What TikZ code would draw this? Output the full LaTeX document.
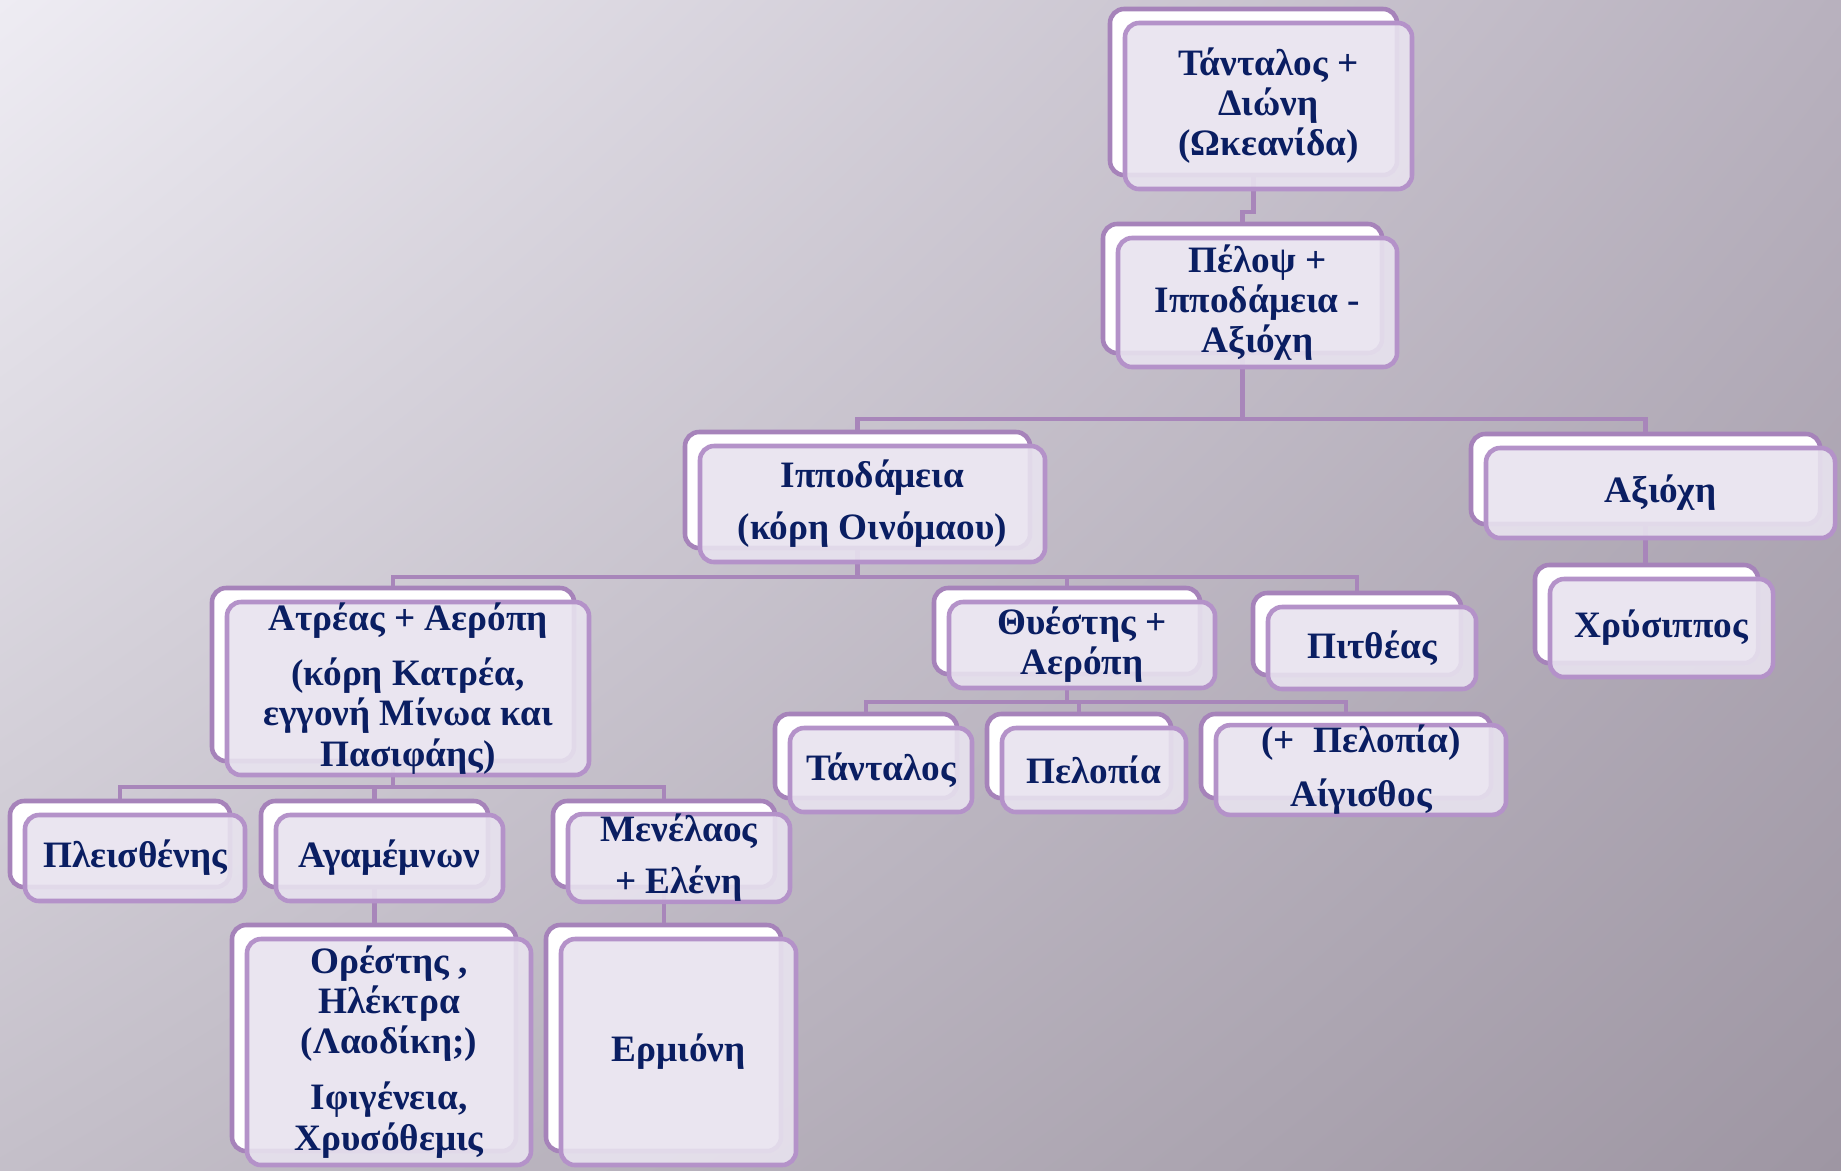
\documentclass[tikz,border=0pt]{standalone}
\usepackage{fontspec}
\setmainfont{Liberation Serif}
\usetikzlibrary{shadings}

\definecolor{bgTL}{RGB}{238,236,243}
\definecolor{bgTR}{RGB}{184,177,190}
\definecolor{bgBL}{RGB}{196,191,201}
\definecolor{bgBR}{RGB}{158,150,163}
\definecolor{backline}{RGB}{166,131,186}
\definecolor{frontline}{RGB}{180,146,201}
\definecolor{frontfill}{RGB}{232,227,239}
\definecolor{connline}{RGB}{168,134,186}
\definecolor{navy}{RGB}{10,30,98}

\begin{document}
\begin{tikzpicture}[x=0.1mm, y=-0.1mm,
  backbox/.style={draw=backline, fill=white, line width=1.3pt,
    rounded corners=1.4mm, inner sep=0pt},
  frontbox/.style={draw=frontline, fill=frontfill, fill opacity=0.9,
    text opacity=1, line width=1.3pt, rounded corners=1.4mm, inner sep=0pt,
    align=center, text=navy, font=\bfseries\fontsize{10.6}{11.4}\selectfont},
  conn/.style={draw=connline, line width=1.3pt},
  sz/.style 2 args={minimum width=#1mm, minimum height=#2mm}
]
  % background
  \shade[upper left=bgTL, upper right=bgTR, lower left=bgBL, lower right=bgBR]
    (0,0) rectangle (1841,1170);

  % back boxes
  \node[backbox, sz={28.7}{16.6}] (tantB) at (1253.5,92) {};
  \node[backbox, sz={27.9}{12.9}] (pelB) at (1242.5,288.5) {};
  \node[backbox, sz={34.5}{11.6}] (ippB) at (857.5,490) {};
  \node[backbox, sz={34.9}{9.0}] (axiB) at (1645.5,479) {};
  \node[backbox, sz={22.3}{9.8}] (chrB) at (1646.5,614) {};
  \node[backbox, sz={36.2}{17.3}] (atrB) at (393,674.5) {};
  \node[backbox, sz={26.6}{8.6}] (thyB) at (1067,631) {};
  \node[backbox, sz={20.8}{8.2}] (pitB) at (1357,634) {};
  \node[backbox, sz={18.2}{8.4}] (tanB) at (866,756) {};
  \node[backbox, sz={18.4}{8.4}] (peloB) at (1079,756) {};
  \node[backbox, sz={29.0}{8.4}] (aigB) at (1346,756) {};
  \node[backbox, sz={22.0}{8.6}] (pleB) at (120,844) {};
  \node[backbox, sz={22.7}{8.6}] (agaB) at (374.5,844) {};
  \node[backbox, sz={22.2}{8.6}] (menB) at (664,844) {};
  \node[backbox, sz={28.4}{22.6}] (oreB) at (374,1038) {};
  \node[backbox, sz={23.5}{22.6}] (ermB) at (663.5,1038) {};

  % bus levels
  \coordinate (jog) at (0,212);
  \coordinate (bus1) at (0,419);
  \coordinate (bus2) at (0,577);
  \coordinate (bus3) at (0,702);
  \coordinate (bus4) at (0,787);

  \draw[conn] (tantB.south) -- (tantB.south |- jog) -| (pelB.north);
  \draw[conn] (pelB.south) -- (pelB.south |- bus1) -| (ippB.north);
  \draw[conn] (pelB.south |- bus1) -| (axiB.north);
  \draw[conn] (axiB.south) -- (axiB.south |- chrB.north);
  \draw[conn] (ippB.south) -- (ippB.south |- bus2) -| (atrB.north);
  \draw[conn] (ippB.south |- bus2) -| (thyB.north);
  \draw[conn] (ippB.south |- bus2) -| (pitB.north);
  \draw[conn] (thyB.south) -- (thyB.south |- bus3) -| (tanB.north);
  \draw[conn] (thyB.south |- bus3) -| (peloB.north);
  \draw[conn] (thyB.south |- bus3) -| (aigB.north);
  \draw[conn] (atrB.south) -- (atrB.south |- bus4) -| (pleB.north);
  \draw[conn] (atrB.south |- bus4) -| (agaB.north);
  \draw[conn] (atrB.south |- bus4) -| (menB.north);
  \draw[conn] (agaB.south) -- (agaB.south |- oreB.north);
  \draw[conn] (menB.south) -- (menB.south |- ermB.north);

  % front boxes
  \node[frontbox, sz={28.7}{16.6}] (tant) at ([shift={(15,14)}]tantB)
    {Τάνταλος +\\Διώνη\\(Ωκεανίδα)};
  \node[frontbox, sz={27.9}{12.9}] (pel) at ([shift={(15,14)}]pelB)
    {Πέλοψ +\\Ιπποδάμεια -\\Αξιόχη};
  \node[frontbox, sz={34.5}{11.6}] (ipp) at ([shift={(15,14)}]ippB)
    {Ιπποδάμεια\\[1.2mm](κόρη Οινόμαου)};
  \node[frontbox, sz={34.9}{9.0}] (axi) at ([shift={(15,14)}]axiB) {Αξιόχη};
  \node[frontbox, sz={22.3}{9.8}] (chr) at ([shift={(15,14)}]chrB) {Χρύσιππος};
  \node[frontbox, sz={36.2}{17.3}] (atr) at ([shift={(15,14)}]atrB)
    {Ατρέας + Αερόπη\\[1.5mm](κόρη Κατρέα,\\εγγονή Μίνωα και\\Πασιφάης)};
  \node[frontbox, sz={26.6}{8.6}] (thy) at ([shift={(15,14)}]thyB)
    {Θυέστης +\\Αερόπη};
  \node[frontbox, sz={20.8}{8.2}] (pit) at ([shift={(15,14)}]pitB) {Πιτθέας};
  \node[frontbox, sz={18.2}{8.4}] (tan) at ([shift={(15,14)}]tanB) {Τάνταλος};
  \node[frontbox, sz={18.4}{8.4}] (pelo) at ([shift={(15,14)}]peloB) {Πελοπία};
  \node[frontbox, sz={29.0}{8.4}] (aig) at ([shift={(15,14)}]aigB)
    {(+\ \ Πελοπία)\\[1.4mm]Αίγισθος};
  \node[frontbox, sz={22.0}{8.6}] (ple) at ([shift={(15,14)}]pleB) {Πλεισθένης};
  \node[frontbox, sz={22.7}{8.6}] (aga) at ([shift={(15,14)}]agaB) {Αγαμέμνων};
  \node[frontbox, sz={22.2}{8.6}] (men) at ([shift={(15,14)}]menB)
    {Μενέλαος\\[1.2mm]+ Ελένη};
  \node[frontbox, sz={28.4}{22.6}] (ore) at ([shift={(15,14)}]oreB)
    {Ορέστης ,\\Ηλέκτρα\\(Λαοδίκη;)\\[1.6mm]Ιφιγένεια,\\Χρυσόθεμις};
  \node[frontbox, sz={23.5}{22.6}] (erm) at ([shift={(15,14)}]ermB) {Ερμιόνη};
\end{tikzpicture}
\end{document}
